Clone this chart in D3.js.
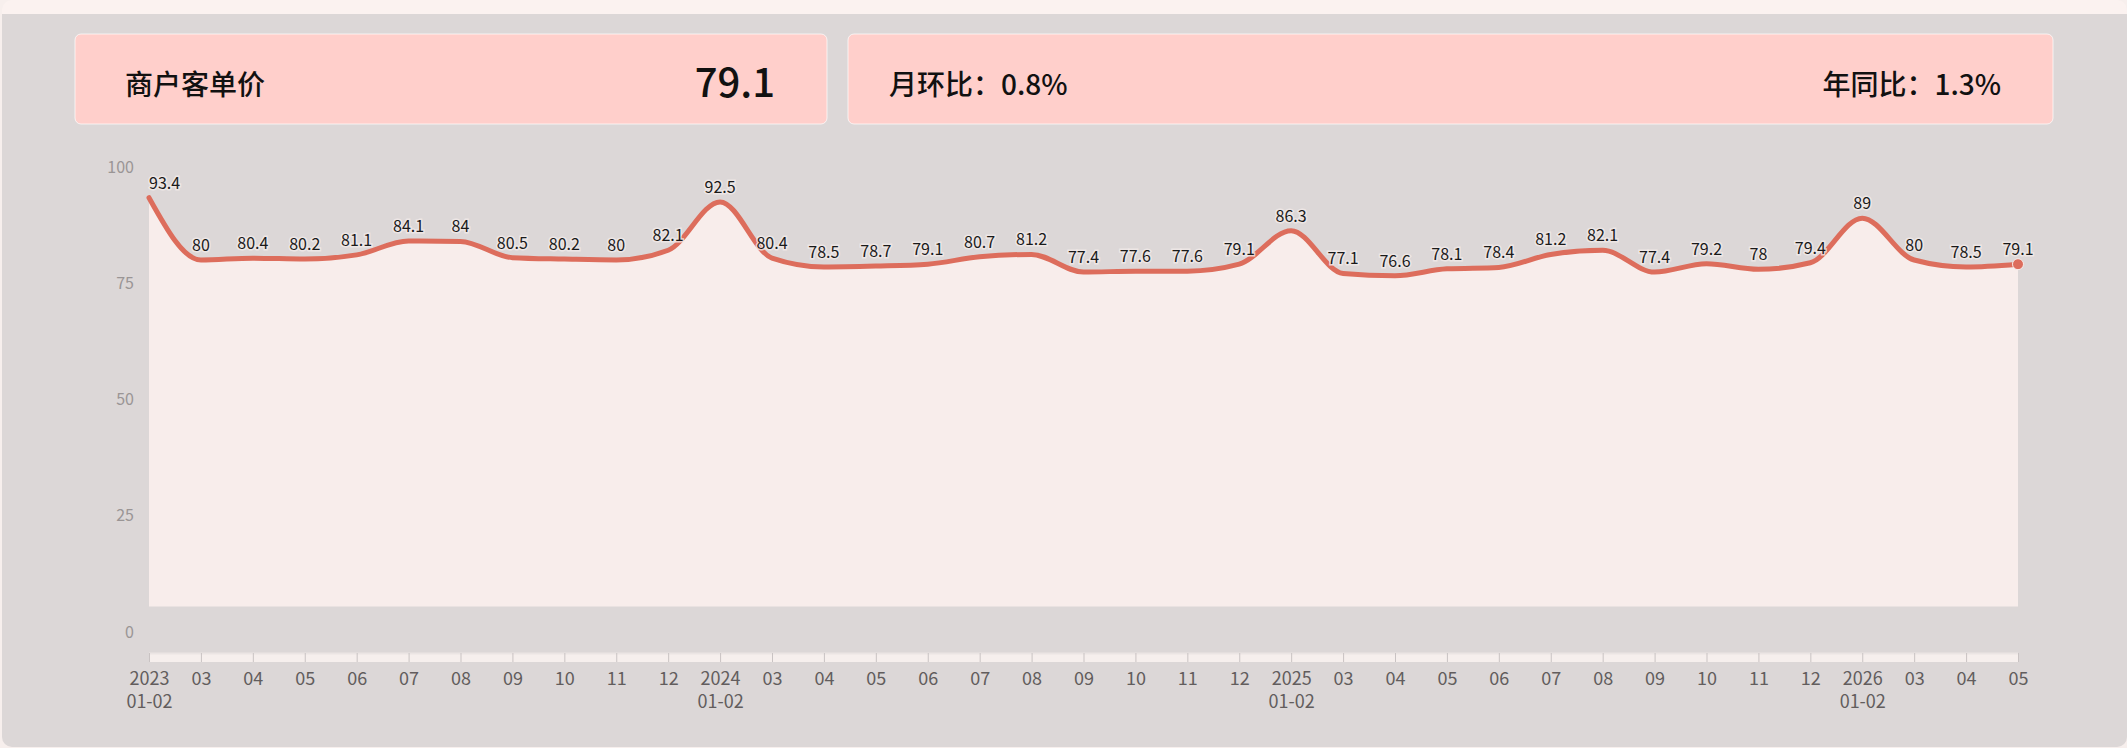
<!DOCTYPE html>
<html>
<head>
<meta charset="utf-8">
<script src="https://cdn.jsdelivr.net/npm/d3@7/dist/d3.min.js"></script>
<style>
  html, body { margin: 0; padding: 0; background: #f7efed; }
  svg { display: block; font-family: "Noto Sans CJK SC", "Noto Sans", sans-serif; }
</style>
</head>
<body>
<script>
// months shown on the x axis, one per point
const months = [
  '2023|01-02', '03', '04', '05', '06', '07', '08', '09', '10', '11', '12',
  '2024|01-02', '03', '04', '05', '06', '07', '08', '09', '10', '11', '12',
  '2025|01-02', '03', '04', '05', '06', '07', '08', '09', '10', '11', '12',
  '2026|01-02', '03', '04', '05'
];
const prices = [
  93.4, 80, 80.4, 80.2, 81.1, 84.1, 84, 80.5, 80.2, 80, 82.1,
  92.5, 80.4, 78.5, 78.7, 79.1, 80.7, 81.2, 77.4, 77.6, 77.6, 79.1,
  86.3, 77.1, 76.6, 78.1, 78.4, 81.2, 82.1, 77.4, 79.2, 78, 79.4,
  89, 80, 78.5, 79.1
];
const yTicks = [0, 25, 50, 75, 100];

const kpiTitle = '商户客单价';
const kpiValue = '79.1';
const momText = '月环比：0.8%';
const yoyText = '年同比：1.3%';

const WIDTH = 2127;
const HEIGHT = 748;
const LINE_COLOR = '#dd6d5c';
const AREA_FLOOR = 5.5;   // fill stops a little above zero, like the source

var svg = d3.select('body').append('svg')
    .attr('width', WIDTH)
    .attr('height', HEIGHT);

// panel
svg.append('rect')
    .attr('x', 2).attr('y', 0).attr('width', WIDTH - 2).attr('height', 30)
    .attr('rx', 10).attr('fill', '#fbf2f0');
svg.append('rect')
    .attr('x', 2).attr('y', 14).attr('width', WIDTH - 2).attr('height', HEIGHT - 15)
    .attr('rx', 10).attr('fill', '#dcd7d7');
svg.append('rect')
    .attr('x', 2).attr('y', 14).attr('width', WIDTH - 2).attr('height', 20)
    .attr('fill', '#dcd7d7');

// kpi cards
var card = function (x, w) {
  svg.append('rect')
      .attr('x', x).attr('y', 34).attr('width', w).attr('height', 90)
      .attr('rx', 6)
      .attr('fill', '#ffcfcb')
      .attr('stroke', '#fff').attr('stroke-opacity', 0.7).attr('stroke-width', 1);
};
card(75, 752);
card(848, 1205);

svg.append('text')
    .attr('x', 125).attr('y', 95)
    .attr('font-size', 28).attr('font-weight', 500).attr('fill', '#111')
    .text(kpiTitle);
svg.append('text')
    .attr('x', 775).attr('y', 97).attr('text-anchor', 'end')
    .attr('font-size', 40).attr('font-weight', 500).attr('fill', '#111')
    .text(kpiValue);
svg.append('text')
    .attr('x', 889).attr('y', 95)
    .attr('font-size', 28).attr('font-weight', 500).attr('fill', '#111')
    .text(momText);
svg.append('text')
    .attr('x', 2001).attr('y', 95).attr('text-anchor', 'end')
    .attr('font-size', 28).attr('font-weight', 500).attr('fill', '#111')
    .text(yoyText);

// scales (months repeat, so the point scale runs on the index)
var xScale = d3.scalePoint()
    .domain(d3.range(months.length))
    .range([149, 2018]);

var yScale = d3.scaleLinear()
    .domain([0, 100])
    .range([632, 167]);

var points = months.map(function (m, i) { return {i: i, m: m, v: prices[i]}; });

// y axis labels only
var yAxis = svg.append('g')
    .attr('transform', 'translate(140,0)')
    .call(d3.axisLeft(yScale).tickValues(yTicks).tickSize(0).tickPadding(6));
yAxis.select('.domain').remove();
yAxis.selectAll('text')
    .attr('font-size', 16)
    .attr('fill', '#9a9595')
    .attr('font-family', '"Noto Sans CJK SC", sans-serif');

// area + line
var area = d3.area()
    .x(function (d) { return xScale(d.i); })
    .y0(yScale(AREA_FLOOR))
    .y1(function (d) { return yScale(d.v); })
    .curve(d3.curveMonotoneX);

var line = d3.line()
    .x(function (d) { return xScale(d.i); })
    .y(function (d) { return yScale(d.v); })
    .curve(d3.curveMonotoneX);

svg.append('path')
    .datum(points)
    .attr('d', area)
    .attr('fill', '#f8edeb');

svg.append('path')
    .datum(points)
    .attr('d', line)
    .attr('fill', 'none')
    .attr('stroke', LINE_COLOR)
    .attr('stroke-width', 5)
    .attr('stroke-linejoin', 'round')
    .attr('stroke-linecap', 'round');

var last = points[points.length - 1];
svg.append('circle')
    .attr('cx', xScale(last.i))
    .attr('cy', yScale(last.v))
    .attr('r', 5.5)
    .attr('fill', LINE_COLOR)
    .attr('stroke', '#f8edeb')
    .attr('stroke-width', 1);

// data labels
svg.append('g').selectAll('text')
    .data(points)
    .enter()
    .append('text')
    .attr('x', function (d) { return xScale(d.i); })
    .attr('y', function (d) { return yScale(d.v) - 9; })
    .attr('text-anchor', function (d) { return d.i === 0 ? 'start' : 'middle'; })
    .attr('font-size', 16)
    .attr('fill', '#1a1a1a')
    .attr('stroke', '#f3ebea')
    .attr('stroke-width', 3)
    .attr('stroke-opacity', 0.8)
    .attr('paint-order', 'stroke')
    .text(function (d) { return d.v; });

// x axis band
svg.append('rect')
    .attr('x', 149).attr('y', 653).attr('width', 2018 - 149).attr('height', 9)
    .attr('fill', '#f6efed');
svg.append('line')
    .attr('x1', 149).attr('x2', 2018).attr('y1', 653.5).attr('y2', 653.5)
    .attr('stroke', '#ebe5e4').attr('stroke-width', 2);

var xAxis = svg.append('g')
    .attr('transform', 'translate(0,653)')
    .call(d3.axisBottom(xScale).tickSize(9).tickPadding(10)
        .tickFormat(function (i) { return months[i]; }));
xAxis.select('.domain').remove();
xAxis.selectAll('.tick line').attr('stroke', '#c9c3c3');

var xLabels = xAxis.selectAll('.tick text')
    .attr('font-size', 18)
    .attr('fill', '#625d5d')
    .attr('font-family', '"Noto Sans CJK SC", sans-serif');

xLabels.each(function (i) {
  var parts = months[i].split('|');
  var t = d3.select(this);
  t.text(null);
  parts.forEach(function (p, j) {
    t.append('tspan')
        .attr('x', 0)
        .attr('dy', j === 0 ? '0.71em' : '1.3em')
        .text(p);
  });
});
</script>
</body>
</html>
